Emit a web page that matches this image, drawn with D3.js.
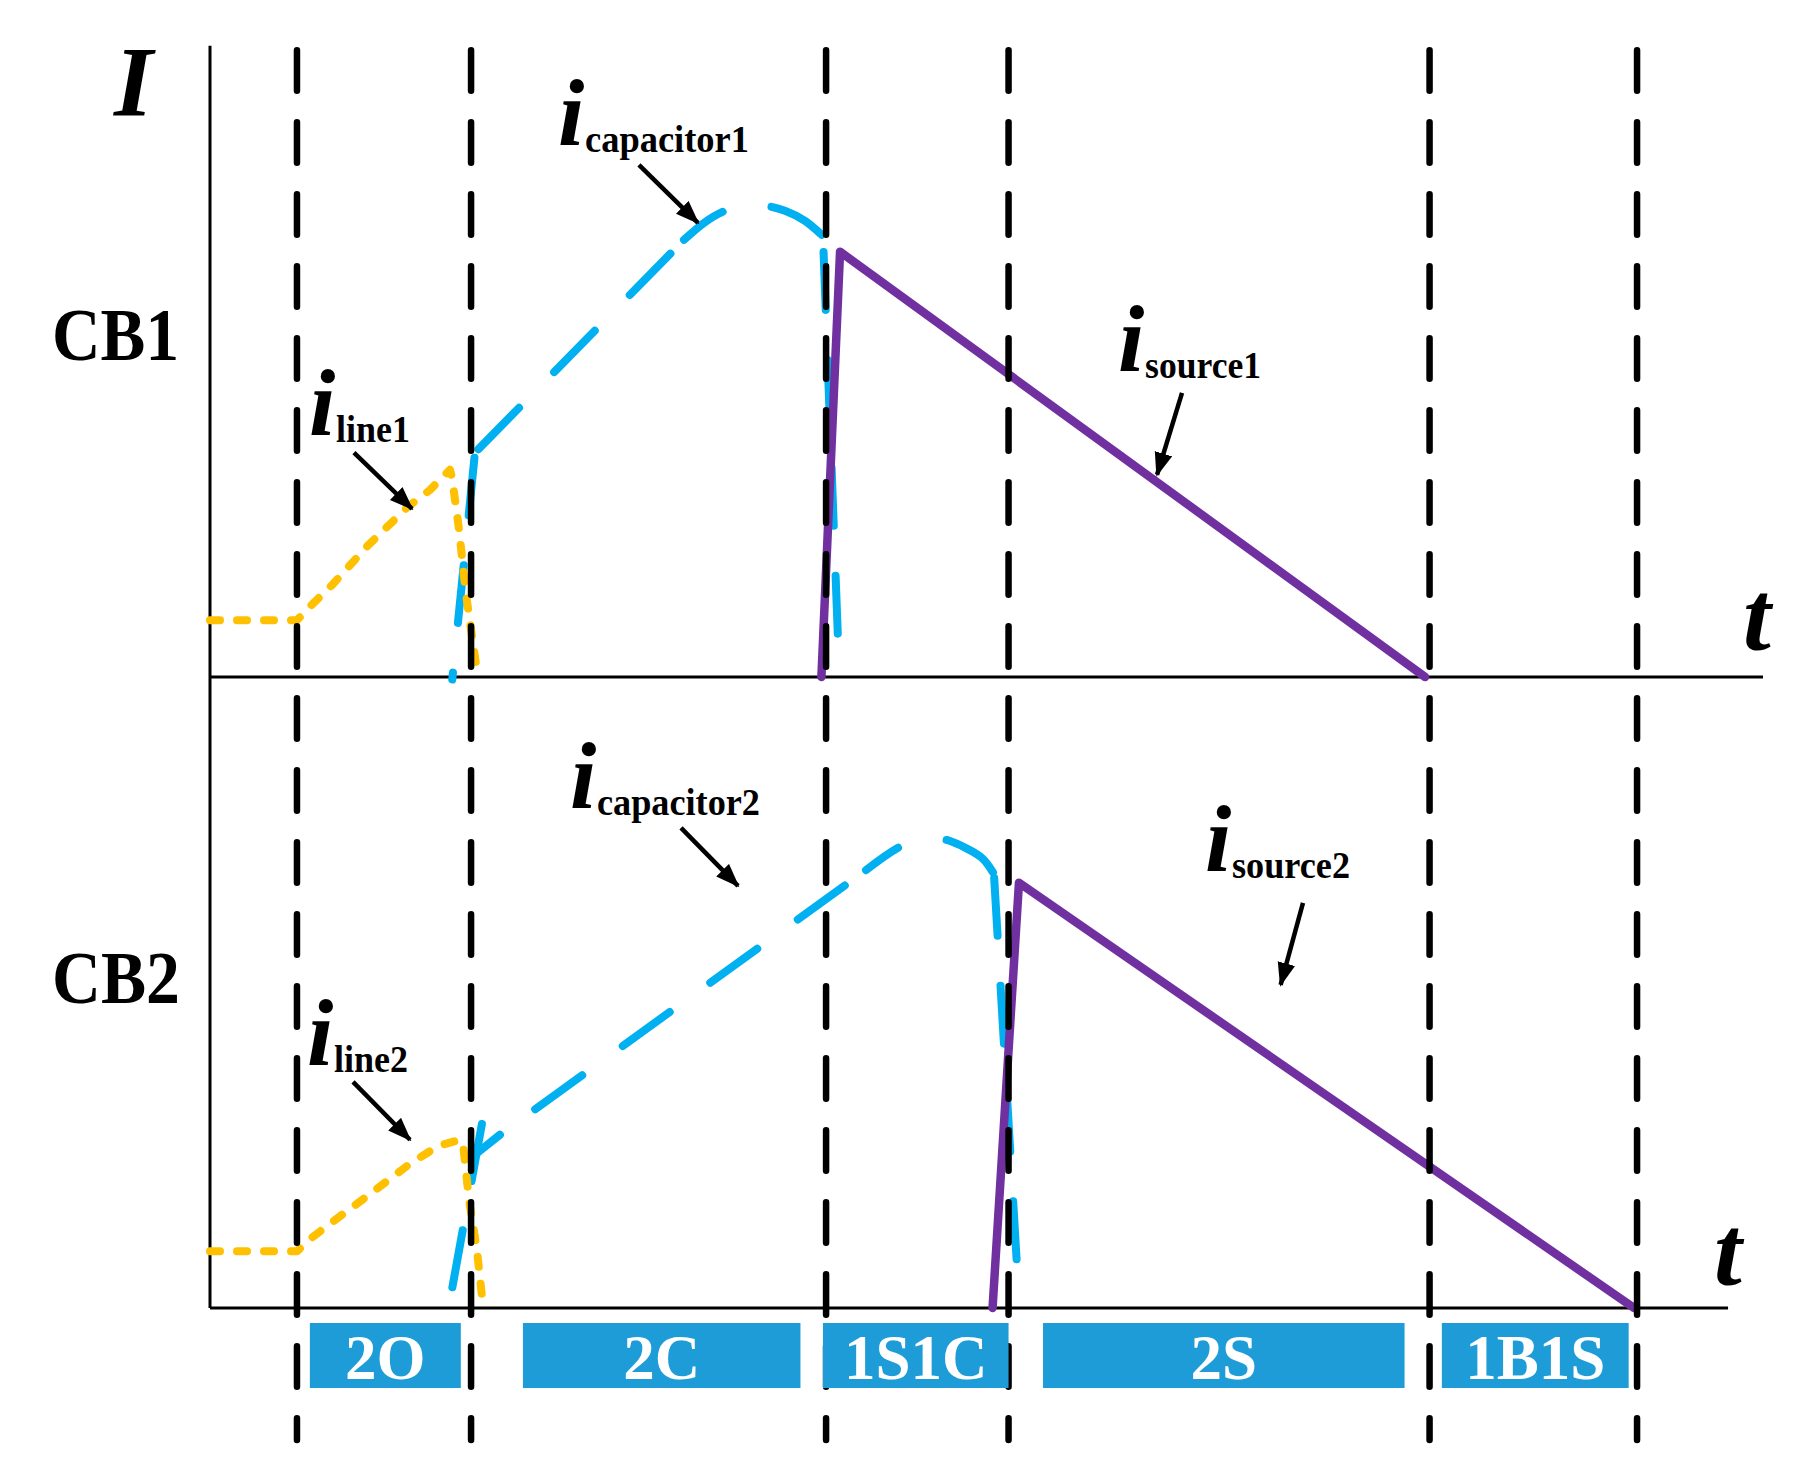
<!DOCTYPE html>
<html>
<head>
<meta charset="utf-8">
<script src="https://cdn.jsdelivr.net/npm/d3@7"></script>
<style>
  body { margin: 0; background: #fff; }
  svg { display: block; }
</style>
</head>
<body>
<div id="chart"></div>
<script>
// time axis in arbitrary units (0..1000), current in % of panel height (0..100)

// phase boundaries (dashed verticals)
const phaseBounds = [56.0, 168.1, 396.7, 514.2, 785.3, 918.9];
// phase bar labels and their time spans
const phaseLabels = ["2O", "2C", "1S1C", "2S", "1B1S"];
const phaseStart = [64.3, 201.5, 394.7, 536.4, 793.2];
const phaseEnd = [161.5, 380.2, 514.2, 769.2, 913.5];

// CB1 currents [t, I]
const iLine1 = [[0, 9.0], [56, 9.0], [64, 11.1], [78.6, 14.6], [101.4, 20.8], [127.3, 27.0],
                [141.7, 29.7], [154.5, 32.9], [155.8, 31.7], [160.3, 23.5], [164.8, 13.2], [171.9, 1.0]];
const iCapacitor1 = [[156.0, -0.4], [170.6, 35.6], [305.2, 69.4], [318.7, 72.2], [329.7, 73.8],
                     [344.5, 74.9], [357.4, 74.8], [370.2, 74.0], [383.1, 72.4], [394.7, 70.0], [404.4, 5.7]];
const iSource1 = [[393.7, 0], [405.7, 67.5], [782.4, 0]];

// CB2 currents [t, I]
const iLine2 = [[0, 9.0], [56, 9.0], [63.7, 10.8], [74.7, 12.9], [99.8, 17.5], [128.8, 22.9],
                [146.8, 25.7], [161, 26.7], [163, 25.9], [166.8, 17.1], [171.9, 9.2], [175.8, 0.3]];
const iCapacitor2 = [[155.5, 2.5], [175.8, 30.2], [171.9, 24.6], [186.7, 27.5], [422.4, 69.5],
                     [445.0, 73.3], [457.2, 74.1], [472.0, 74.4], [486.8, 73.0], [497.7, 71.3],
                     [504.8, 68.9], [519.6, 6.8]];
const iSource2 = [[503.9, 0], [520.9, 67.5], [917, 0]];

const W = 1807, H = 1471;
const serif = "'Liberation Serif','Times New Roman',Times,serif";

const svg = d3.select("#chart").append("svg")
    .attr("width", W)
    .attr("height", H);

const x = d3.scaleLinear().domain([0, 1000]).range([210, 1763]);
const yTop = d3.scaleLinear().domain([0, 100]).range([677, 47]);
const yBot = d3.scaleLinear().domain([0, 100]).range([1308, 678]);

// arrow head
svg.append("defs").append("marker")
    .attr("id", "arrow")
    .attr("markerUnits", "userSpaceOnUse")
    .attr("markerWidth", 24).attr("markerHeight", 20)
    .attr("refX", 22).attr("refY", 9)
    .attr("orient", "auto")
    .append("path")
    .attr("d", "M0,0 L24,9 L0,18 Z")
    .attr("fill", "#000");

// axes
svg.append("line")
    .attr("x1", x(0)).attr("x2", x(0))
    .attr("y1", yTop(100.2)).attr("y2", yBot(0))
    .attr("stroke", "#000").attr("stroke-width", 3);
svg.append("line")
    .attr("x1", x(0)).attr("x2", x(1000))
    .attr("y1", yTop(0)).attr("y2", yTop(0))
    .attr("stroke", "#000").attr("stroke-width", 3);
svg.append("line")
    .attr("x1", x(0)).attr("x2", x(977.5))
    .attr("y1", yBot(0)).attr("y2", yBot(0))
    .attr("stroke", "#000").attr("stroke-width", 3);

// current curves
function drawCurve(data, yScale, color, dash, width, offset, smooth) {
    const line = d3.line()
        .x(d => x(d[0]))
        .y(d => yScale(d[1]))
        .curve(smooth ? d3.curveCatmullRom.alpha(0.5) : d3.curveLinear);
    svg.append("path")
        .datum(data)
        .attr("d", line)
        .attr("fill", "none")
        .attr("stroke", color)
        .attr("stroke-width", width)
        .attr("stroke-linecap", "round")
        .attr("stroke-linejoin", "round")
        .attr("stroke-dasharray", dash)
        .attr("stroke-dashoffset", offset || 0);
}

// the capacitor traces were drawn piece by piece, so the dash restarts on each piece
// [from index, to index, dash offset, smooth]
const cap1Pieces = [[1, 0, -5], [1, 2, -5], [2, 9, 10, true], [9, 10, -16]];
const cap2Pieces = [[0, 1, -5], [2, 3, 0], [3, 4, -43.5], [4, 10, 19, true], [10, 11, -4]];

function piece(data, p) {
    return p[0] <= p[1] ? data.slice(p[0], p[1] + 1) : data.slice(p[1], p[0] + 1).reverse();
}
cap1Pieces.forEach(p => drawCurve(piece(iCapacitor1, p), yTop, "#00B0F0", "58,50", 8, p[2], p[3]));
cap2Pieces.forEach(p => drawCurve(piece(iCapacitor2, p), yBot, "#00B0F0", "58,50", 8, p[2], p[3]));

drawCurve(iLine1, yTop, "#FFC000", "10,17", 8);
drawCurve(iLine2, yBot, "#FFC000", "10,17", 8);
drawCurve(iSource1, yTop, "#7030A0", null, 8.5);
drawCurve(iSource2, yBot, "#7030A0", null, 8.5);

// phase boundaries
svg.selectAll(".phase-line")
    .data(phaseBounds)
    .enter()
    .append("line")
    .attr("class", "phase-line")
    .attr("x1", d => x(d)).attr("x2", d => x(d))
    .attr("y1", 50.25).attr("y2", 1440)
    .attr("stroke", "#000")
    .attr("stroke-width", 6.5)
    .attr("stroke-linecap", "round")
    .attr("stroke-dasharray", "40.5,31.5");

// phase bars
const bars = svg.selectAll(".phase")
    .data(phaseLabels)
    .enter()
    .append("g")
    .attr("class", "phase");
bars.append("rect")
    .attr("x", (d, i) => x(phaseStart[i]))
    .attr("y", 1323)
    .attr("width", (d, i) => x(phaseEnd[i]) - x(phaseStart[i]))
    .attr("height", 65)
    .attr("fill", "#1E9CD7");
bars.append("text")
    .attr("x", (d, i) => (x(phaseStart[i]) + x(phaseEnd[i])) / 2)
    .attr("y", 1379)
    .attr("text-anchor", "middle")
    .attr("font-family", serif)
    .attr("font-weight", "bold")
    .attr("font-size", 63)
    .attr("fill", "#fff")
    .text(d => d);

// axis titles
function label(px, py, txt, size, italic, len) {
    const t = svg.append("text")
        .attr("x", px).attr("y", py)
        .attr("font-family", serif)
        .attr("font-weight", "bold")
        .attr("font-style", italic ? "italic" : "normal")
        .attr("font-size", size)
        .attr("fill", "#000")
        .text(txt);
    if (len) t.attr("textLength", len).attr("lengthAdjust", "spacingAndGlyphs");
    return t;
}
label(114, 115, "I", 100, true);
label(1743, 650, "t", 100, true);
label(1714, 1285, "t", 100, true);
label(52, 360, "CB1", 74, false, 127);
label(52, 1003, "CB2", 74, false, 128);

// series annotations: i with subscript, plus arrow
const notes = [
    { sub: "line1", panel: "top", t: 63.7, v: 38.4, w: 74, from: [92.7, 35.6], to: [130.1, 26.7] },
    { sub: "capacitor1", panel: "top", t: 224.1, v: 84.4, w: 164, from: [276.2, 81.3], to: [314.2, 72.1] },
    { sub: "source1", panel: "top", t: 584.7, v: 48.6, w: 116, from: [625.9, 45.1], to: [609.8, 32.1] },
    { sub: "line2", panel: "bot", t: 62.5, v: 38.6, w: 74, from: [92.1, 35.9], to: [128.8, 26.7] },
    { sub: "capacitor2", panel: "bot", t: 231.8, v: 79.4, w: 163, from: [303.3, 76.2], to: [340, 67] },
    { sub: "source2", panel: "bot", t: 640.7, v: 69.4, w: 118, from: [703.8, 64.3], to: [689.4, 51.3] }
];
notes.forEach(n => {
    const ys = n.panel === "top" ? yTop : yBot;
    const px = x(n.t), py = ys(n.v);
    label(px, py, "i", 95, true);
    label(px + 27, py + 7, n.sub, 37, false, n.w);
    svg.append("line")
        .attr("x1", x(n.from[0])).attr("y1", ys(n.from[1]))
        .attr("x2", x(n.to[0])).attr("y2", ys(n.to[1]))
        .attr("stroke", "#000")
        .attr("stroke-width", 4.5)
        .attr("marker-end", "url(#arrow)");
});
</script>
</body>
</html>
